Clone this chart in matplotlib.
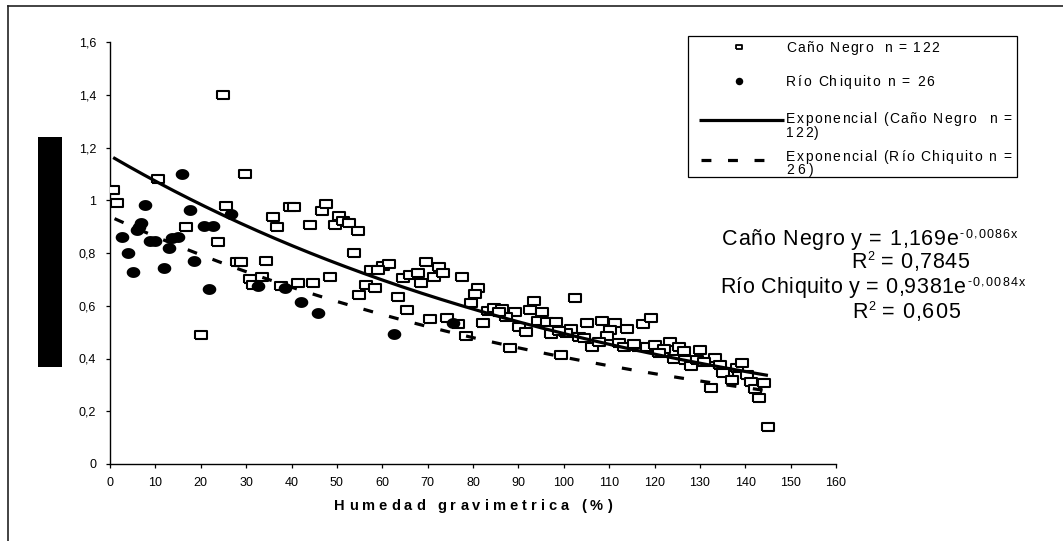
import numpy as np
import matplotlib
matplotlib.use("Agg")
import matplotlib.pyplot as plt
from matplotlib.patches import Rectangle
from matplotlib.lines import Line2D
from matplotlib.font_manager import FontProperties

# ---------------- data ----------------
cn_x = [0.7, 1.6, 10.6, 24.8, 29.8, 25.6, 16.7, 23.8, 35.9, 36.8,
        39.6, 40.6, 44.0, 46.7, 47.7, 50.4, 49.5, 51.3, 52.7, 54.6,
        53.7, 20.0, 27.9, 28.9, 34.4, 30.8, 33.6, 31.5, 37.7, 41.5,
        44.7, 48.5, 54.9, 57.5, 60.2, 61.5, 56.4, 58.4, 64.5, 66.1,
        67.8, 68.6, 69.6, 72.4, 71.3, 73.4, 77.5, 63.4, 65.4, 70.5,
        74.2, 76.8, 78.4, 81.2, 80.4, 79.5, 82.1, 88.1, 83.2, 84.6,
        86.4, 89.2, 87.2, 93.4, 92.5, 95.2, 90.1, 91.6, 94.3, 96.3,
        98.2, 97.2, 99.5, 102.4, 101.6, 100.4, 103.3, 104.4, 105.1, 108.4,
        111.2, 110.3, 109.5, 106.2, 107.7, 114.0, 117.4, 119.3, 112.2, 113.2,
        116.3, 118.3, 120.2, 123.4, 125.3, 126.4, 122.0, 120.9, 124.2, 126.8,
        128.0, 130.0, 129.3, 133.3, 134.4, 135.9, 135.2, 132.4, 137.0, 138.1,
        139.3, 140.3, 141.2, 142.1, 143.0, 144.2, 145.0, 85.8, 99.0, 115.5,
        131.0, 59.0]
cn_y = [1.04, 0.99, 1.08, 1.40, 1.10, 0.98, 0.90, 0.84, 0.935, 0.90,
        0.975, 0.975, 0.905, 0.96, 0.985, 0.94, 0.905, 0.92, 0.915, 0.885,
        0.80, 0.49, 0.765, 0.765, 0.77, 0.70, 0.71, 0.68, 0.675, 0.685,
        0.685, 0.71, 0.64, 0.735, 0.75, 0.757, 0.68, 0.668, 0.704, 0.717,
        0.723, 0.685, 0.767, 0.748, 0.71, 0.723, 0.71, 0.632, 0.584, 0.549,
        0.555, 0.53, 0.487, 0.668, 0.643, 0.609, 0.536, 0.438, 0.581, 0.59,
        0.586, 0.578, 0.559, 0.619, 0.584, 0.575, 0.518, 0.50, 0.542, 0.537,
        0.54, 0.492, 0.413, 0.631, 0.511, 0.496, 0.48, 0.476, 0.536, 0.542,
        0.536, 0.508, 0.487, 0.445, 0.461, 0.511, 0.531, 0.552, 0.458, 0.442,
        0.442, 0.445, 0.451, 0.464, 0.445, 0.428, 0.435, 0.42, 0.40, 0.394,
        0.37, 0.432, 0.394, 0.403, 0.375, 0.35, 0.344, 0.287, 0.318, 0.365,
        0.384, 0.337, 0.312, 0.283, 0.251, 0.306, 0.141, 0.575, 0.505, 0.455,
        0.385, 0.735]

rc_x = [15.8, 7.7, 17.6, 26.6, 6.8, 5.9, 20.7, 22.7, 2.7, 8.8,
        9.9, 13.6, 14.9, 13.0, 3.9, 18.5, 5.1, 11.9, 21.8, 32.6,
        38.6, 42.1, 45.8, 62.6, 75.7, 6.3]
rc_y = [1.10, 0.982, 0.963, 0.947, 0.913, 0.887, 0.904, 0.904, 0.862, 0.846,
        0.846, 0.856, 0.862, 0.82, 0.801, 0.771, 0.729, 0.742, 0.662, 0.675,
        0.669, 0.615, 0.571, 0.492, 0.536, 0.90]

# exponential trendlines (as reported on the chart)
cn_a, cn_b = 1.169, -0.0086
rc_a, rc_b = 0.9381, -0.0084
rc_trend_range = (1.0, 145.0)

x_ticks = list(range(0, 161, 10))
y_ticks = [0, 0.2, 0.4, 0.6, 0.8, 1.0, 1.2, 1.4, 1.6]
y_tick_labels = ["0", "0,2", "0,4", "0,6", "0,8", "1", "1,2", "1,4", "1,6"]

x_label = "Humedad gravimetrica (%)"
legend_labels = ["Caño Negro  n = 122", "Río Chiquito n = 26",
                 "Exponencial (Caño Negro  n =", "122)",
                 "Exponencial (Río Chiquito n =", "26)"]

# ---------------- figure ----------------
W, H, DPI = 1063, 541, 100
plt.rcParams['font.family'] = ['Liberation Sans', 'DejaVu Sans']
fig = plt.figure(figsize=(W / DPI, H / DPI), dpi=DPI)
fig.patch.set_facecolor('white')


def fx(px):
    return px / W


def fy(py):
    return 1 - py / H


AX_L, AX_R, AX_T, AX_B = 110, 836, 42, 464
ax = fig.add_axes([fx(AX_L), fy(AX_B), (AX_R - AX_L) / W, (AX_B - AX_T) / H])
ax.set_xlim(0, 160)
ax.set_ylim(0, 1.6)
for s in ['top', 'right']:
    ax.spines[s].set_visible(False)
for s in ['left', 'bottom']:
    ax.spines[s].set_linewidth(1.0)
    ax.spines[s].set_color('black')
ax.set_xticks(x_ticks)
ax.set_xticklabels([str(v) for v in x_ticks])
ax.set_yticks(y_ticks)
ax.set_yticklabels(y_tick_labels)
ax.tick_params(axis='both', direction='out', length=3, width=0.9,
               labelsize=9, colors='black')
ax.tick_params(axis='y', pad=7)
ax.tick_params(axis='x', pad=6)

# marker shapes
rect_marker = [(-1.3, -1), (1.3, -1), (1.3, 1), (-1.3, 1), (-1.3, -1)]
tt = np.linspace(0, 2 * np.pi, 41)
ell_marker = list(zip(1.25 * np.cos(tt), np.sin(tt)))

ax.plot(cn_x, cn_y, linestyle='none', marker=rect_marker, markersize=8.4,
        markerfacecolor='white', markeredgecolor='black', markeredgewidth=1.5,
        zorder=3)
ax.plot(rc_x, rc_y, linestyle='none', marker=ell_marker, markersize=9.8,
        markerfacecolor='black', markeredgecolor='black', markeredgewidth=0,
        zorder=4)

xs_cn = np.linspace(min(cn_x), max(cn_x), 300)
ax.plot(xs_cn, cn_a * np.exp(cn_b * xs_cn), color='black', lw=2.3, zorder=5,
        solid_capstyle='butt')
xs_rc = np.linspace(rc_trend_range[0], rc_trend_range[1], 300)
ax.plot(xs_rc, rc_a * np.exp(rc_b * xs_rc), color='black', lw=2.3, zorder=5,
        dashes=(3.1, 5.2), dash_capstyle='butt')

# ---------------- text helpers ----------------
renderer = fig.canvas.get_renderer()


def spaced(x0, y, s, size, right=None, weight='normal', va='center'):
    fp = FontProperties(family='Liberation Sans', size=size, weight=weight)

    def w(t):
        return renderer.get_text_width_height_descent(t, fp, ismath=False)[0]
    bar = w('|')

    def adv(t):
        if not t:
            return 0.0
        return w(t + '|') - bar
    nat = adv(s)
    sp = 0.0
    if right is not None and len(s) > 1:
        sp = (right - x0 - nat) / (len(s) - 1)
    for i, ch in enumerate(s):
        if ch == ' ':
            continue
        xi = x0 + adv(s[:i]) + i * sp
        fig.text(fx(xi), fy(y), ch, fontproperties=fp, ha='left', va=va,
                 color='black')
    return x0 + nat + sp * (len(s) - 1)


# x label
spaced(334, 506, x_label, 10.5, right=612, weight='bold')

# equations
EQ, SUP = 15.5, 9
spaced(722, 245, "Caño Negro y = 1,169e", EQ, right=958, va='baseline')
spaced(960, 237.5, "-0,0086x", SUP, right=1017, va='baseline')
e = spaced(851, 268, "R", EQ, va='baseline')
e = spaced(e + 0.5, 260.5, "2", SUP, va='baseline')
spaced(e, 268, " = 0,7845", EQ, right=969, va='baseline')
spaced(720, 293, "Río Chiquito y = 0,9381e", EQ, right=965, va='baseline')
spaced(967, 285.5, "-0,0084x", SUP, right=1025, va='baseline')
e = spaced(852, 318, "R", EQ, va='baseline')
e = spaced(e + 0.5, 310.5, "2", SUP, va='baseline')
spaced(e, 318, " = 0,605", EQ, right=960, va='baseline')

# ---------------- legend (manual) ----------------
fig.patches.append(Rectangle((fx(688), fy(177)), (1017 - 688) / W, (177 - 36) / H,
                             transform=fig.transFigure, facecolor='white',
                             edgecolor='black', lw=0.9, zorder=1))
fig.lines.append(Line2D([fx(739)], [fy(47)], transform=fig.transFigure,
                        linestyle='none', marker=rect_marker, markersize=4.4,
                        markerfacecolor='white', markeredgecolor='black',
                        markeredgewidth=1.3))
fig.lines.append(Line2D([fx(739)], [fy(81)], transform=fig.transFigure,
                        linestyle='none', marker='o', markersize=5.4,
                        markerfacecolor='black', markeredgewidth=0))
fig.lines.append(Line2D([fx(699), fx(784)], [fy(120), fy(120)],
                        transform=fig.transFigure, color='black', lw=2.3,
                        solid_capstyle='butt'))
fig.lines.append(Line2D([fx(701), fx(779)], [fy(160), fy(160)],
                        transform=fig.transFigure, color='black', lw=2.3,
                        dashes=(3.1, 5.2), dash_capstyle='butt'))

LG = 10
spaced(786, 48, legend_labels[0], LG, right=939)
spaced(786, 82, legend_labels[1], LG, right=934)
spaced(786, 119, legend_labels[2], LG, right=1011)
spaced(786, 133, legend_labels[3], LG, right=819)
spaced(786, 157, legend_labels[4], LG, right=1011)
spaced(786, 170, legend_labels[5], LG, right=814)

# ---------------- frame & black box ----------------
fig.lines.append(Line2D([fx(8), fx(8)], [fy(6), fy(541)], transform=fig.transFigure,
                        color='#222222', lw=1.2))
fig.lines.append(Line2D([fx(8), fx(1063)], [fy(6), fy(6)], transform=fig.transFigure,
                        color='#222222', lw=1.2))
fig.patches.append(Rectangle((fx(38), fy(367)), (62 - 38) / W, (367 - 137) / H,
                             transform=fig.transFigure, facecolor='black',
                             edgecolor='none'))

fig.savefig('out.png', dpi=DPI)
